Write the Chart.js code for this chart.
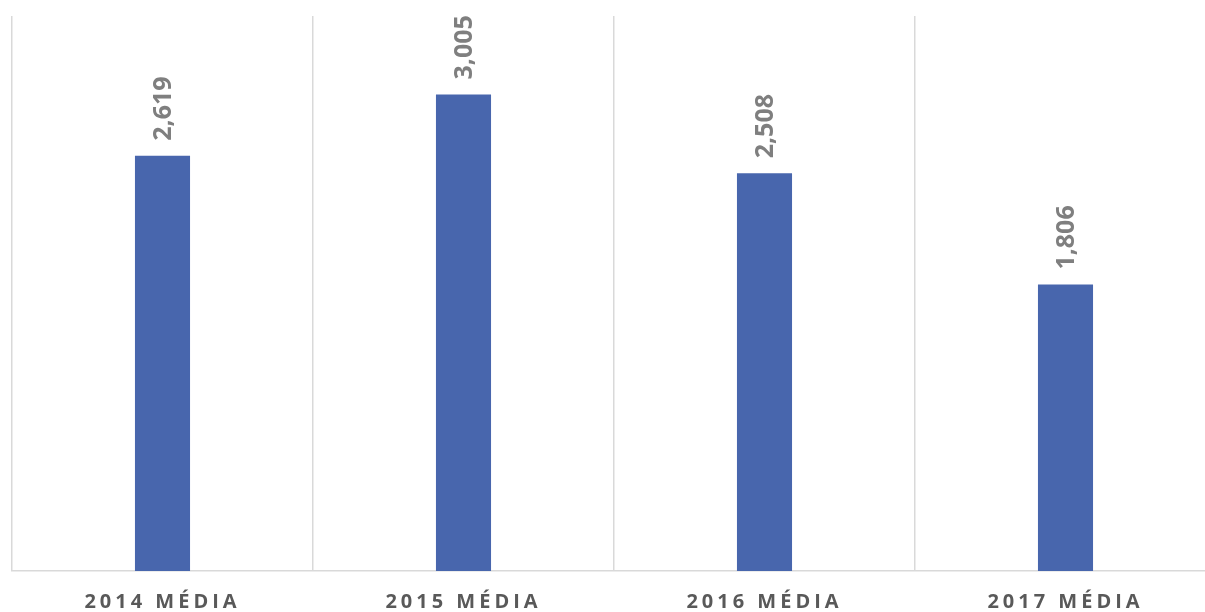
<!DOCTYPE html>
<html>
<head>
<meta charset="utf-8">
<script src="https://cdn.jsdelivr.net/npm/chart.js@4"></script>
<style>
  html, body { margin: 0; padding: 0; background: #fff; overflow: hidden; }
  #wrap { width: 1217px; height: 612px; }
</style>
</head>
<body>
<div id="wrap"><canvas id="mediaChart"></canvas></div>
<script>
'use strict';

const categories = ["2014 MÉDIA", "2015 MÉDIA", "2016 MÉDIA", "2017 MÉDIA"];
const values = [2619, 3005, 2508, 1806];
const valueLabels = ["2,619", "3,005", "2,508", "1,806"];

const barBlue = "#4866ad";
const gridGrey = "#d9d9d9";

// vertical value labels above each bar
const barLabels = {
    id: 'barLabels',
    afterDatasetsDraw(chart){
        const ctx = chart.ctx;
        const meta = chart.getDatasetMeta(0);
        ctx.save();
        ctx.letterSpacing = "0px";
        ctx.font = "bold 25px 'Open Sans'";
        ctx.fillStyle = "#7f7f7f";
        ctx.textAlign = "left";
        ctx.textBaseline = "middle";
        meta.data.forEach((bar, i) => {
            ctx.save();
            ctx.translate(bar.x + 1, bar.y - 15);
            ctx.rotate(-Math.PI / 2);
            ctx.fillText(valueLabels[i], 0, 0);
            ctx.restore();
        });
        ctx.restore();
    }
};

// spaced-out category labels
const tickSpacing = {
    id: 'tickSpacing',
    beforeDraw(chart){ chart.ctx.letterSpacing = "4px"; },
    afterDraw(chart){ chart.ctx.letterSpacing = "0px"; }
};

const ctx = document.getElementById('mediaChart').getContext('2d');
new Chart(ctx, {
    type: 'bar',
    data: {
        labels: categories,
        datasets: [{
            data: values,
            backgroundColor: barBlue,
            categoryPercentage: 1,
            barPercentage: 0.183
        }]
    },
    options: {
        responsive: true,
        maintainAspectRatio: false,
        animation: false,
        layout: { padding: { top: 16, left: 12, right: 1, bottom: 0 } },
        plugins: {
            legend: { display: false },
            tooltip: { enabled: false }
        },
        scales: {
            x: {
                grid: { color: gridGrey, lineWidth: 1.5, drawTicks: false, offset: true },
                border: { display: true, color: gridGrey, width: 1.5 },
                ticks: {
                    color: "#595959",
                    font: { family: "'Open Sans'", size: 20, weight: 'bold' },
                    padding: 19,
                    maxRotation: 0
                },
                afterFit(scale){ scale.height = 41; }
            },
            y: {
                display: false,
                min: 0,
                max: 3500
            }
        }
    },
    plugins: [barLabels, tickSpacing]
});
</script>
</body>
</html>
